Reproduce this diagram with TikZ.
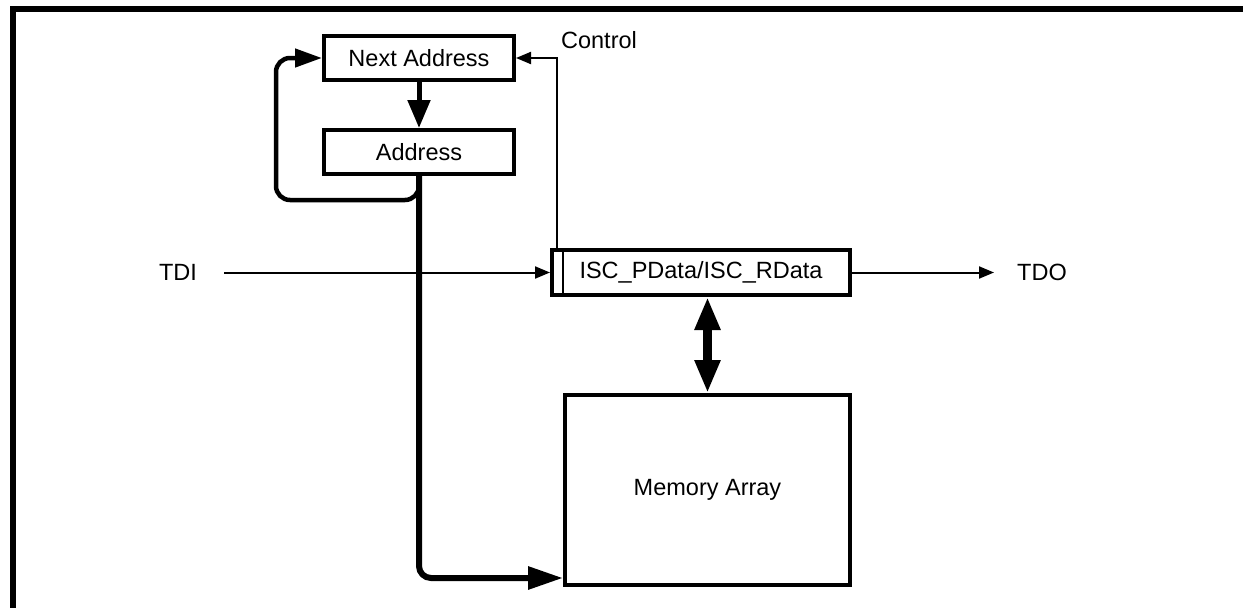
\documentclass[tikz,border=0pt]{standalone}
\usepackage{fontspec}
\setmainfont{Liberation Sans}
\usetikzlibrary{arrows.meta, calc}

\begin{document}
\begin{tikzpicture}[x=1pt, y=-1pt,
        every node/.style={font=\fontsize{23.5}{28}\selectfont},
        blk/.style={draw, line width=4pt, minimum height=44pt, inner sep=0pt},
        lbl/.style={inner sep=0pt},
        sig/.style={line width=2pt, -{Triangle[length=15pt,width=12pt]}},
        bus/.style={line width=5pt}]
        \useasboundingbox (0,0) rectangle (1243,608);
        \draw[line width=6pt] (13,630) -- (13,9) -- (1260,9);

        \node[blk, minimum width=190pt] (next) at (419,58) {Next Address};
        \node[blk, minimum width=190pt] (addr) at (419,152) {Address};
        \node[blk, minimum width=298pt, minimum height=45pt] (isc) at (701,272.5) {ISC\_PData/ISC\_RData};
        \node[blk, minimum width=285pt, minimum height=190pt] (mem) at (707.5,490) {Memory Array};
        \draw[line width=2pt] ($(isc.north west)+(13,0)$) -- ($(isc.south west)+(13,0)$);

        \node[lbl] (tdi) at (178,272.5) {TDI};
        \node[lbl] (tdo) at (1042,272.5) {TDO};
        \node[lbl] (ctl) at (599,40) {Control};
        \coordinate (lp) at (276,200);

        \draw[bus, -{Triangle[length=28pt,width=22pt]}] (next) -- (addr);
        \draw[bus, line width=4.5pt, rounded corners=14pt, -{Triangle[length=27pt,width=18pt]}] (addr.south) |- (lp) |- (next.west);
        \draw[bus, line width=6pt, rounded corners=12pt, -{Triangle[length=35pt,width=22pt]}] (addr.south) |- (mem.west |- 0,578);
        \draw[sig] ($(isc.north west)+(7,0)$) |- (next.east);
        \draw[sig, shorten <=27pt] (tdi.east) -- (isc.west);
        \draw[sig, shorten >=23pt] (isc.east) -- (tdo.west);
        \draw[bus, line width=9pt, {Triangle[length=33pt,width=24pt]}-{Triangle[length=33pt,width=24pt]}] (mem.north |- isc.south) -- (mem.north);
    \end{tikzpicture}
\end{document}
